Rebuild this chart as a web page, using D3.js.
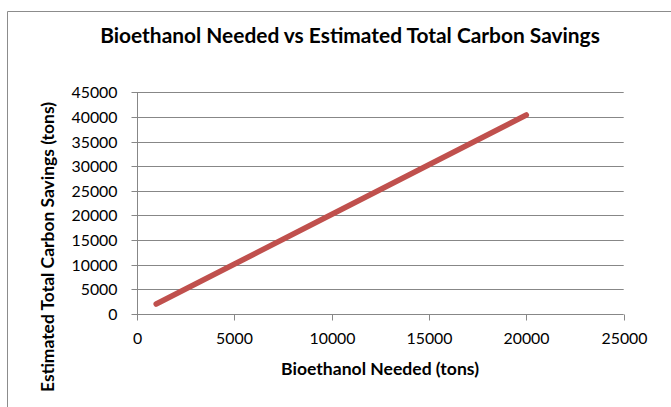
<!DOCTYPE html>
<html><head><meta charset="utf-8">
<script src="https://cdn.jsdelivr.net/npm/d3@7"></script>
<style>body{margin:0;background:#fff}svg{display:block}</style>
</head><body>
<script>
const title = "Bioethanol Needed vs Estimated Total Carbon Savings";
const xTitle = "Bioethanol Needed (tons)";
const yTitle = "Estimated Total Carbon Savings (tons)";
const bioethanol = [1000, 5000, 10000, 15000, 20000];
const carbonSavings = [2020, 10100, 20200, 30300, 40400];
const xTicks = [0, 5000, 10000, 15000, 20000, 25000];
const yTicks = [0, 5000, 10000, 15000, 20000, 25000, 30000, 35000, 40000, 45000];

const W = 671, H = 407;
const svg = d3.select("body").append("svg").attr("width", W).attr("height", H);
const font = "Lato, 'Open Sans', sans-serif";

svg.append("path").attr("d", `M7.5,${H}V11.5H${W}`).attr("fill","none").attr("stroke","#8c8c8c").attr("stroke-width",1);

const x = d3.scaleLinear().domain([0, 25000]).range([136.7, 623.7]);
const y = d3.scaleLinear().domain([0, 45000]).range([314, 92.3]);
const grey = "#878787";

// gridlines
svg.append("g").selectAll("line").data(yTicks.slice(1)).join("line")
  .attr("x1", x(0)).attr("x2", x(25000))
  .attr("y1", d => Math.round(y(d)) + 0.5).attr("y2", d => Math.round(y(d)) + 0.5)
  .attr("stroke", grey).attr("stroke-width", 1);

function fit(sel, target) {
  sel.each(function(){
    const w = this.getComputedTextLength();
    const fs = parseFloat(d3.select(this).attr("font-size"));
    d3.select(this).attr("font-size", fs * target / w);
  });
}

// y axis
const yAxis = svg.append("g").attr("transform", `translate(${Math.round(x(0))+0.5},0)`)
  .call(d3.axisLeft(y).tickValues(yTicks).tickSize(6).tickPadding(14).tickFormat(d3.format("d")));
yAxis.select(".domain").attr("stroke", grey).attr("d", `M0,${y(45000)}V${y(0)}`);
yAxis.selectAll(".tick line").attr("stroke", grey);
yAxis.selectAll(".tick text").attr("font-family", font).attr("font-size", 15).attr("fill", "#000");
yAxis.selectAll(".tick").attr("transform", d => `translate(0,${Math.round(y(d))+0.5})`);
yAxis.selectAll(".tick text").filter(d => d === 45000).call(fit, 46);
const yfs = yAxis.selectAll(".tick text").filter(d => d === 45000).attr("font-size");
yAxis.selectAll(".tick text").attr("font-size", yfs);

// x axis
const xAxis = svg.append("g").attr("transform", `translate(0,${Math.round(y(0))+0.5})`)
  .call(d3.axisBottom(x).tickValues(xTicks).tickSize(6).tickPadding(12).tickFormat(d3.format("d")));
xAxis.select(".domain").attr("stroke", grey).attr("d", `M${x(0)},0H${x(25000)}`);
xAxis.selectAll(".tick line").attr("stroke", grey);
xAxis.selectAll(".tick").attr("transform", d => `translate(${Math.round(x(d))+0.5},0)`);
xAxis.selectAll(".tick text").attr("font-family", font).attr("font-size", yfs).attr("fill", "#000");

// line
const line = d3.line().x((d, i) => x(bioethanol[i])).y(d => y(d));
svg.append("path").datum(carbonSavings).attr("d", line)
  .attr("fill", "none").attr("stroke", "#c0504d").attr("stroke-width", 5.5)
  .attr("stroke-linecap", "round").attr("stroke-linejoin", "round");

// titles
svg.append("text").attr("x", 350).attr("y", 42.5).attr("text-anchor", "middle")
  .attr("font-family", font).attr("font-weight", "bold").attr("font-size", 18).attr("fill", "#000")
  .text(title).call(fit, 500);
svg.append("text").attr("x", 380).attr("y", 375).attr("text-anchor", "middle")
  .attr("font-family", font).attr("font-weight", "bold").attr("font-size", 14).attr("fill", "#000")
  .text(xTitle).call(fit, 198);
svg.append("text").attr("transform", "translate(54,247) rotate(-90)").attr("text-anchor", "middle")
  .attr("font-family", font).attr("font-weight", "bold").attr("font-size", 14).attr("fill", "#000")
  .text(yTitle).call(fit, 290);
</script>
</body></html>
